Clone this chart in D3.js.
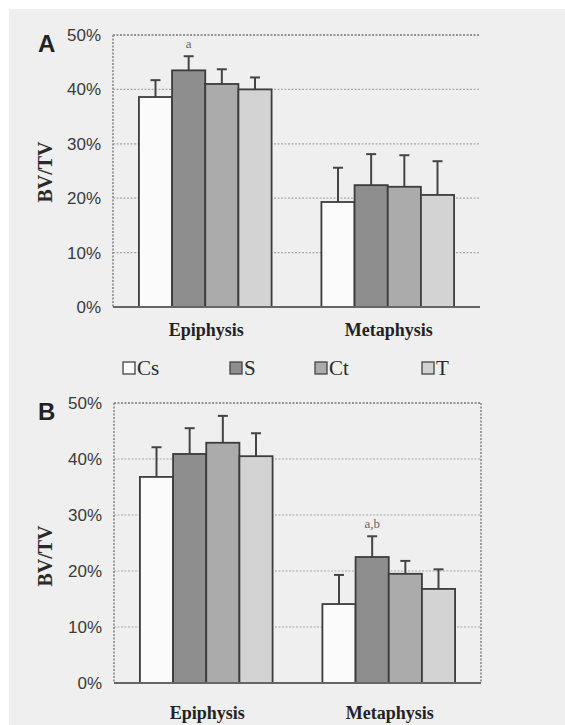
<!DOCTYPE html>
<html><head><meta charset="utf-8">
<script src="https://cdn.jsdelivr.net/npm/d3@7"></script>
<style>
html,body{margin:0;padding:0;background:#fff;}
svg{display:block;}
</style></head>
<body>
<svg id="chart" width="565" height="725"></svg>
<script>
const categories = ["Epiphysis", "Metaphysis"];
const series = ["Cs", "S", "Ct", "T"];
const yTicks = [0, 10, 20, 30, 40, 50];
const tickLabels = ["0%", "10%", "20%", "30%", "40%", "50%"];
// Panel A: means and SD (% BV/TV)
const meanA_Epiphysis = [38.6, 43.5, 41.0, 40.0];
const sdA_Epiphysis   = [3.1, 2.6, 2.7, 2.2];
const meanA_Metaphysis = [19.3, 22.4, 22.1, 20.6];
const sdA_Metaphysis   = [6.3, 5.7, 5.8, 6.2];
// Panel B
const meanB_Epiphysis = [36.8, 40.9, 42.9, 40.5];
const sdB_Epiphysis   = [5.3, 4.6, 4.8, 4.1];
const meanB_Metaphysis = [14.1, 22.5, 19.5, 16.8];
const sdB_Metaphysis   = [5.2, 3.7, 2.3, 3.5];
const annotA = [{cat: "Epiphysis", s: "S", text: "a"}];
const annotB = [{cat: "Metaphysis", s: "S", text: "a,b"}];

const fills = {Cs: "#fbfbfb", S: "#8e8e8e", Ct: "#ababab", T: "#d3d3d3"};

const svg = d3.select("#chart");
// scanned paper background
svg.append("rect").attr("x", 0).attr("y", 0).attr("width", 565).attr("height", 725).attr("fill", "#ffffff");
svg.append("rect").attr("x", 9).attr("y", 9).attr("width", 556).attr("height", 716).attr("fill", "#efefef");

function panel(opts) {
  const {letter, top, bottom, left, right, means, sds, annots, rightBorder, labelY, letterY, yLabelY} = opts;
  const g = svg.append("g");
  const y = d3.scaleLinear().domain([0, 50]).range([bottom, top]);
  const x0 = d3.scaleBand().domain(categories).range([left, right]).paddingInner(0.273).paddingOuter(0.142);
  const x1 = d3.scaleBand().domain(series).range([0, x0.bandwidth()]).padding(0);

  // gridlines
  g.append("g").selectAll("line").data(yTicks.filter(t => t > 0)).join("line")
    .attr("x1", left).attr("x2", right)
    .attr("y1", d => y(d)).attr("y2", d => y(d))
    .attr("stroke", d => d === 50 ? "#777" : "#a9a9a9")
    .attr("stroke-width", d => d === 50 ? 1.6 : 1.2)
    .attr("stroke-dasharray", "2,1.5");
  // left border
  g.append("line").attr("x1", left).attr("x2", left).attr("y1", top).attr("y2", bottom)
    .attr("stroke", "#888").attr("stroke-width", 1.6).attr("stroke-dasharray", "2,1.5");
  if (rightBorder) {
    g.append("line").attr("x1", right).attr("x2", right).attr("y1", top).attr("y2", bottom)
      .attr("stroke", "#888").attr("stroke-width", 1.6).attr("stroke-dasharray", "2,1.5");
  }

  // y axis labels
  const yAxis = d3.axisLeft(y).tickValues(yTicks).tickFormat((d, i) => tickLabels[i]).tickSize(0).tickPadding(12);
  const ax = g.append("g").attr("transform", `translate(${left},0)`).call(yAxis);
  ax.select(".domain").remove();
  ax.selectAll("text").attr("font-family", "Liberation Sans, Arial, sans-serif")
    .attr("font-size", 17).attr("fill", "#3a3a3a");

  // bars
  const groups = g.append("g").selectAll("g").data(categories).join("g")
    .attr("transform", d => `translate(${x0(d)},0)`);
  groups.selectAll("g.bar").data((c, ci) => series.map((s, i) => ({c, s, m: means[ci][i], sd: sds[ci][i]})))
    .join("g").attr("class", "bar").each(function(d) {
      const b = d3.select(this);
      const bx = x1(d.s), bw = x1.bandwidth();
      // error bar
      b.append("line").attr("x1", bx + bw / 2).attr("x2", bx + bw / 2)
        .attr("y1", y(d.m)).attr("y2", y(d.m + d.sd)).attr("stroke", "#444").attr("stroke-width", 2);
      b.append("line").attr("x1", bx + bw / 2 - 5).attr("x2", bx + bw / 2 + 5)
        .attr("y1", y(d.m + d.sd)).attr("y2", y(d.m + d.sd)).attr("stroke", "#444").attr("stroke-width", 2);
      b.append("rect").attr("x", bx).attr("width", bw)
        .attr("y", y(d.m)).attr("height", y(0) - y(d.m))
        .attr("fill", fills[d.s]).attr("stroke", "#3c3c3c").attr("stroke-width", 1.8);
    });

  // baseline
  g.append("line").attr("x1", left).attr("x2", right).attr("y1", bottom).attr("y2", bottom)
    .attr("stroke", "#666").attr("stroke-width", 1.8);

  // annotations
  annots.forEach(a => {
    const ci = categories.indexOf(a.cat), si = series.indexOf(a.s);
    const yy = y(means[ci][si] + sds[ci][si]);
    g.append("text").attr("x", x0(a.cat) + x1(a.s) + x1.bandwidth() / 2).attr("y", yy - 8)
      .attr("text-anchor", "middle").attr("font-family", "Liberation Serif, Times New Roman, serif")
      .attr("font-size", 13).attr("fill", "#666").text(a.text);
  });

  // category labels
  g.append("g").selectAll("text").data(categories).join("text")
    .attr("x", d => x0(d) + x0.bandwidth() / 2 + 1).attr("y", labelY)
    .attr("text-anchor", "middle").attr("font-family", "Liberation Serif, Times New Roman, serif")
    .attr("font-weight", "bold").attr("font-size", 18).attr("fill", "#222").text(d => d);

  // panel letter
  g.append("text").attr("x", 38).attr("y", letterY).attr("font-family", "Liberation Sans, Arial, sans-serif")
    .attr("font-weight", "bold").attr("font-size", 24).attr("fill", "#222").text(letter);

  // y title
  g.append("text").attr("transform", `translate(52,${yLabelY}) rotate(-90)`)
    .attr("text-anchor", "middle").attr("font-family", "Liberation Serif, Times New Roman, serif")
    .attr("font-weight", "bold").attr("font-size", 20).attr("fill", "#2a2a2a").text("BV/TV");
}

panel({letter: "A", top: 35, bottom: 307, left: 113, right: 480,
  means: [meanA_Epiphysis, meanA_Metaphysis], sds: [sdA_Epiphysis, sdA_Metaphysis],
  annots: annotA, rightBorder: false, labelY: 336, letterY: 52, yLabelY: 172});
panel({letter: "B", top: 403, bottom: 683, left: 114, right: 481,
  means: [meanB_Epiphysis, meanB_Metaphysis], sds: [sdB_Epiphysis, sdB_Metaphysis],
  annots: annotB, rightBorder: true, labelY: 719, letterY: 420, yLabelY: 556});

// legend
const legendX = [123, 230, 315, 422];
const lg = svg.append("g").selectAll("g").data(series).join("g")
  .attr("transform", (d, i) => `translate(${legendX[i]},362)`);
lg.append("rect").attr("x", 0).attr("y", 0).attr("width", 12).attr("height", 12)
  .attr("fill", d => fills[d]).attr("stroke", "#444").attr("stroke-width", 1.3);
lg.append("text").attr("x", 14).attr("y", 13).attr("font-family", "Liberation Serif, Times New Roman, serif")
  .attr("font-size", 21).attr("fill", "#2a2a2a").text(d => d);
</script>
</body></html>
